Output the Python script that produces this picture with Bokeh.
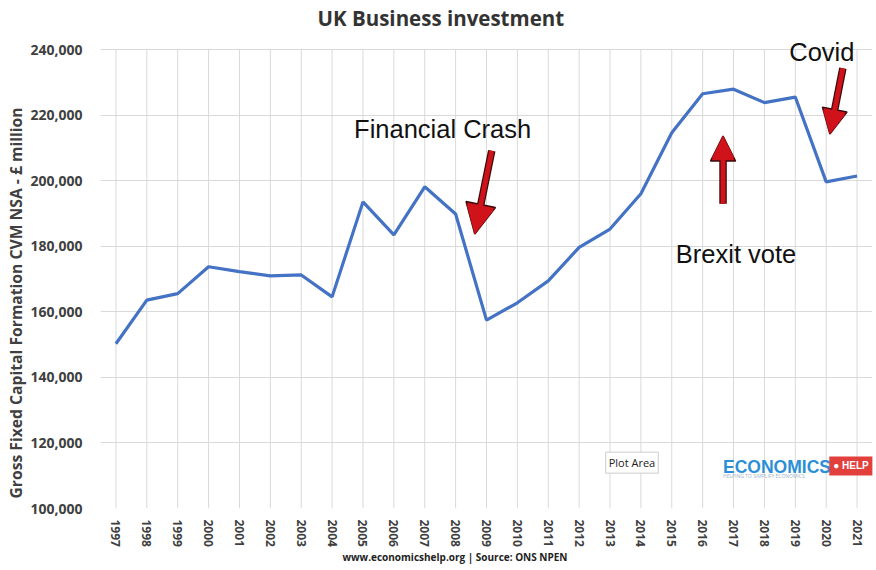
from bokeh.plotting import figure
from bokeh.models import (FixedTicker, NumeralTickFormatter, Label, Arrow,
                          NormalHead, Range1d, Title)
from bokeh.embed import file_html
from bokeh.resources import INLINE

# ---- data ----
years = list(range(1997, 2022))
investment = [150300, 163600, 165600, 173800, 172300, 171000, 171300, 164600,
              193600, 183500, 198200, 189900, 157500, 162800, 169500, 179700,
              185300, 196100, 214700, 226600, 228000, 223900, 225600, 199700,
              201500]
y_ticks = [100000, 120000, 140000, 160000, 180000, 200000, 220000, 240000]

title_text = "UK Business investment"
y_label = "Gross Fixed Capital Formation CVM NSA - \u00a3 million"
source_text = "www.economicshelp.org | Source: ONS NPEN"

# annotations: (text, x, y)
notes = [("Financial Crash", 2007.58, 215900),
         ("Brexit vote", 2017.08, 177700),
         ("Covid", 2019.86, 239500)]
# arrows: (x_tail, y_tail, x_tip, y_tip, head size)
arrows = [(2009.17, 209200, 2008.62, 183800, 30),
          (2016.66, 193000, 2016.66, 213700, 25),
          (2020.54, 234400, 2020.12, 214300, 25)]

FONT = "Open Sans"
GREY = "#404040"
GRID = "#d9d9d9"

p = figure(width=876, height=570,
           x_range=Range1d(1996.5, 2021.5), y_range=Range1d(100000, 245000),
           output_backend="svg", toolbar_location=None,
           min_border_left=100, min_border_right=4,
           min_border_top=33, min_border_bottom=62)
p.outline_line_color = None
p.background_fill_color = "white"
p.border_fill_color = "white"

t = Title(text=title_text, align="left", offset=217,
          text_font=FONT, text_font_style="bold", text_font_size="20.5px",
          text_color="#333333", standoff=3)
p.add_layout(t, "above")

# grid lines (vertical ones stop at the top tick)
p.xgrid.grid_line_color = None
p.ygrid.ticker = FixedTicker(ticks=y_ticks)
p.ygrid.grid_line_color = GRID
p.segment(x0=years, y0=[y_ticks[0]] * len(years), x1=years,
          y1=[y_ticks[-1]] * len(years), line_color=GRID, line_width=1)

p.line(years, investment, line_color="#4472c4", line_width=3.2)

# x axis
p.xaxis.ticker = FixedTicker(ticks=years)
p.xaxis.major_label_orientation = "vertical"
p.xaxis.axis_line_color = None
p.xaxis.major_tick_line_color = None
p.xaxis.minor_tick_line_color = None
p.xaxis.major_label_text_font = FONT
p.xaxis.major_label_text_font_style = "bold"
p.xaxis.major_label_text_font_size = "12px"
p.xaxis.major_label_text_color = GREY
p.xaxis.major_label_standoff = 5

footer = Title(text=source_text, align="left", offset=242,
               text_font=FONT, text_font_style="bold", text_font_size="10px",
               text_color="#222222", standoff=0, vertical_align="top")
p.add_layout(footer, "below")

# y axis
p.yaxis.ticker = FixedTicker(ticks=y_ticks)
p.yaxis.formatter = NumeralTickFormatter(format="0,0")
p.yaxis.axis_line_color = None
p.yaxis.major_tick_line_color = None
p.yaxis.minor_tick_line_color = None
p.yaxis.major_label_text_font = FONT
p.yaxis.major_label_text_font_style = "bold"
p.yaxis.major_label_text_font_size = "14px"
p.yaxis.major_label_text_color = GREY
p.yaxis.major_label_standoff = 12

ytitle = Title(text=y_label, align="left", offset=10,
               text_font=FONT, text_font_style="bold", text_font_size="15.7px",
               text_color=GREY, standoff=1)
p.add_layout(ytitle, "left")

# annotations
for txt, x, y in notes:
    p.add_layout(Label(x=x, y=y, text=txt, text_align="center",
                       text_baseline="middle", text_font="Liberation Sans",
                       text_font_size="25.5px", text_color="#111111"))

RED = "#d0121b"
DARK = "#3a0a0a"
for x0, y0, x1, y1, hs in arrows:
    p.add_layout(Arrow(x_start=x0, y_start=y0, x_end=x1, y_end=y1,
                       line_color=DARK, line_width=7.5,
                       end=NormalHead(size=hs, fill_color=RED,
                                      line_color=DARK, line_width=1.5)))
    p.add_layout(Arrow(x_start=x0, y_start=y0, x_end=x1, y_end=y1,
                       line_color=RED, line_width=5,
                       end=NormalHead(size=hs - 3, fill_color=RED,
                                      line_color=RED, line_width=0.5)))

# "Plot Area" tooltip
p.add_layout(Label(x=2012.86, y=114000, text="Plot Area", text_baseline="middle",
                   text_font=FONT, text_font_size="11px", text_color="#222222",
                   background_fill_color="white", border_line_color="#cccccc",
                   padding=3))

# logo
p.add_layout(Label(x=2016.66, y=112600, text="ECONOMICS", text_baseline="middle",
                   text_font="Liberation Sans", text_font_style="bold",
                   text_font_size="17.5px", text_color="#2a8fd8"))
p.add_layout(Label(x=2020.1, y=113000, text="\u25cf HELP", text_baseline="middle",
                   text_font="Liberation Sans", text_font_style="bold",
                   text_font_size="10px", text_color="white",
                   background_fill_color="#e2403d", padding=4))
p.add_layout(Label(x=2016.66, y=109800, text="HELPING TO SIMPLIFY ECONOMICS",
                   text_baseline="middle", text_font=FONT,
                   text_font_size="5px", text_color="#9fb4c8"))

open("out.html", "w").write(file_html(p, INLINE))
